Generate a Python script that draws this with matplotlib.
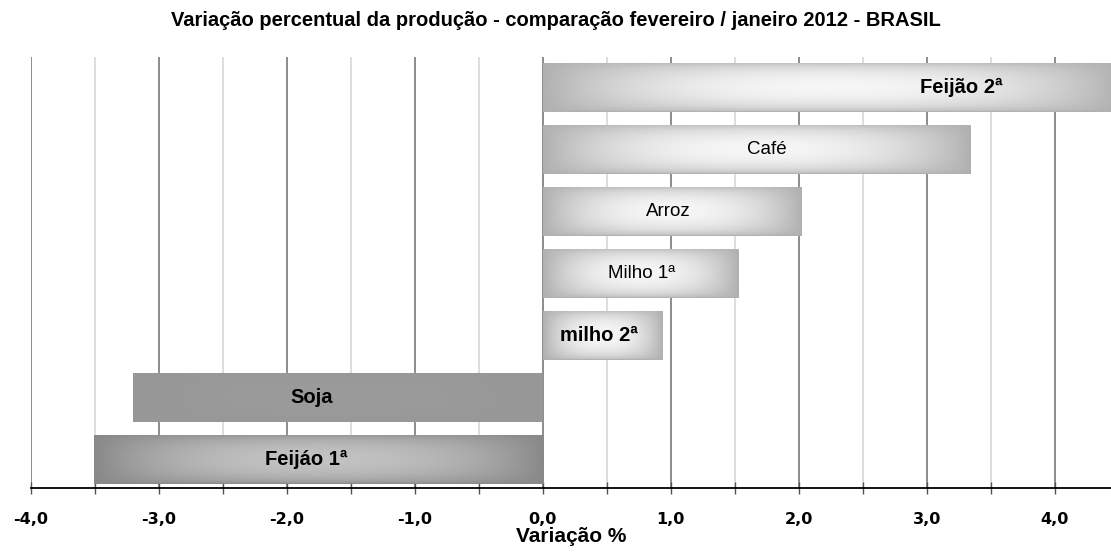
import numpy as np
import matplotlib.pyplot as plt
from matplotlib.colors import LinearSegmentedColormap

# data
CROPS = ["Feijão 2ª", "Café", "Arroz", "Milho 1ª", "milho 2ª", "Soja", "Feijáo 1ª"]
VARIATION = [4.50, 3.34, 2.02, 1.53, 0.93, -3.20, -3.51]
BOLD = [True, False, False, False, True, True, True]
LABEL_X = [3.27, 1.75, 0.98, 0.77, 0.44, -1.81, -1.85]

# edge / centre shades of the gradient fill of each bar
EDGE = ["#b0b0b0", "#b0b0b0", "#b0b0b0", "#b0b0b0", "#b0b0b0", "#979797", "#888888"]
CENTER = ["#f6f6f6", "#f6f6f6", "#f6f6f6", "#f6f6f6", "#f6f6f6", "#9b9b9b", "#c2c2c2"]

TITLE = "Variação percentual da produção - comparação fevereiro / janeiro 2012 - BRASIL"
XTICKS = np.arange(-4, 5, 1)
XTICK_LABELS = ["-4,0", "-3,0", "-2,0", "-1,0", "0,0", "1,0", "2,0", "3,0", "4,0"]

plt.rcParams["font.family"] = ["Liberation Sans", "DejaVu Sans"]

fig = plt.figure(figsize=(11.11, 5.53), dpi=100)
ax = fig.add_axes([31 / 1111, 1 - 488 / 553, 1 - 31 / 1111, (488 - 57) / 553])

ypos = np.arange(len(CROPS))[::-1]
bars = ax.barh(ypos, VARIATION, height=0.8, color=EDGE, zorder=3, linewidth=0)

# gradient: light in the middle, darker towards the edges
u = np.linspace(-1, 1, 300)
v = np.linspace(-1, 1, 60)
U, V = np.meshgrid(u, v)
shade = np.clip((1 - np.abs(U) ** 2.2) ** 0.9 * (1 - V ** 2) ** 0.5, 0, 1)

for bar, e, c in zip(bars, EDGE, CENTER):
    x0, y0 = bar.get_x(), bar.get_y()
    w, h = bar.get_width(), bar.get_height()
    cmap = LinearSegmentedColormap.from_list("g", [e, c])
    im = ax.imshow(shade, cmap=cmap, vmin=0, vmax=1, aspect="auto",
                   extent=[x0, x0 + w, y0, y0 + h], origin="lower",
                   interpolation="bilinear", zorder=4)
    im.set_clip_path(bar)

for y, lx, name, b in zip(ypos, LABEL_X, CROPS, BOLD):
    ax.text(lx, y, name, ha="center", va="center", zorder=5,
            fontsize=14.5 if b else 13.5, fontweight="bold" if b else "normal")

ax.set_xlim(-4, 4.44)
ax.set_ylim(-0.46, len(CROPS) - 1 + 0.49)

# gridlines: dark at the integers, light at the halves
for x in np.arange(-4, 4.5, 0.5):
    major = float(x).is_integer()
    ax.axvline(x, color="#6e6e6e" if major else "#d4d4d4", linewidth=1.1, zorder=1)

ax.set_xticks(np.arange(-4, 4.5, 0.5), minor=True)
ax.set_xticks(XTICKS)
ax.set_xticklabels(XTICK_LABELS, fontsize=11.5, fontweight="bold",
                   family="DejaVu Sans")
ax.tick_params(axis="x", which="both", direction="inout", length=9, width=1,
               color="#555555", pad=13)
ax.set_yticks([])

for s in ["top", "right", "left"]:
    ax.spines[s].set_visible(False)
ax.spines["bottom"].set_linewidth(1.3)
ax.spines["bottom"].set_zorder(6)

ax.set_xlabel("Variação %", fontsize=15, fontweight="bold", labelpad=0)
fig.text(0.5, 1 - 20 / 553, TITLE, ha="center", va="center",
         fontsize=14.5, fontweight="bold")

fig.savefig("out.png", dpi=100)
